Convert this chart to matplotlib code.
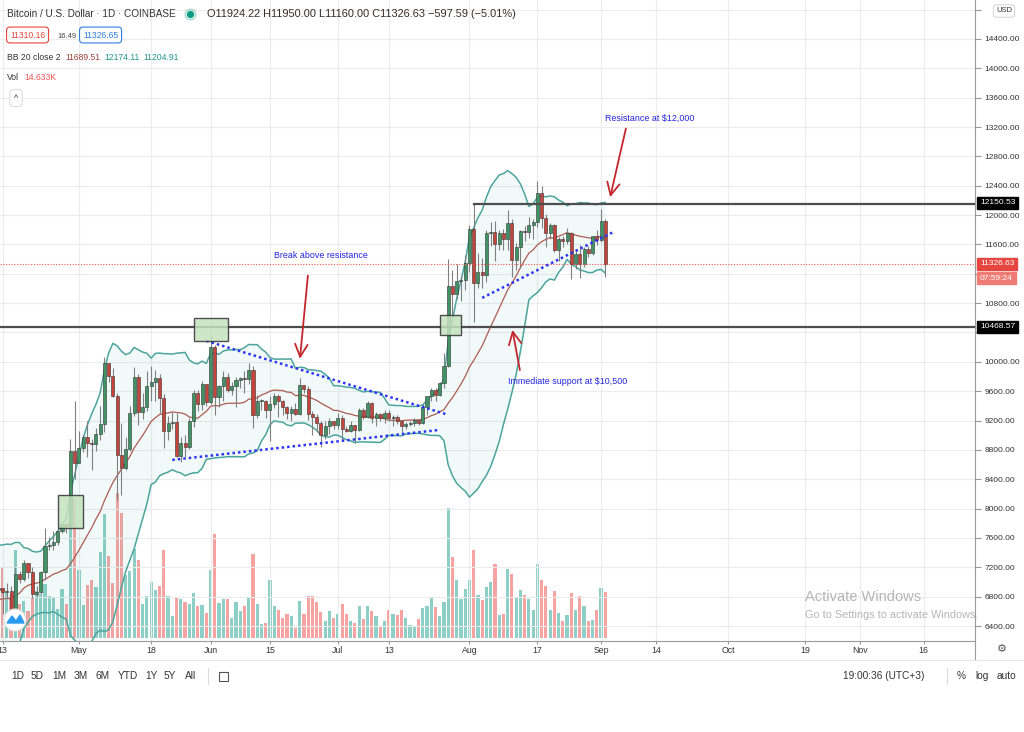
import numpy as np
import pandas as pd
import matplotlib
matplotlib.use('Agg')
import matplotlib.pyplot as plt
from matplotlib import font_manager
from matplotlib.patches import Rectangle, Ellipse, Polygon
from matplotlib.lines import Line2D

#==============================================================================
#- datos BTC/USD diario (Coinbase)
#==============================================================================
# cierres previos, solo para calentar las bandas de Bollinger (23 mar - 11 abr)
cierre_previo = [6480, 6760, 6690, 6760, 6370, 6250, 5880, 6400, 6420, 6650,
                 6810, 6740, 6870, 6780, 7340, 7200, 7370, 7300, 6870, 6890]

fechas = pd.date_range('2020-04-12', '2020-09-02', freq='D')

cierre = [
    # abril 12-30
    6915, 6860, 6880, 6630, 7110, 7040, 7260, 7130, 6840, 6860, 7130, 7490,
    7510, 7540, 7700, 7790, 7760, 8780, 8620,
    # mayo
    8830, 8980, 8900, 8880, 9020, 9150, 9990, 9810, 9540, 8730, 8560, 8810,
    9300, 9790, 9310, 9380, 9670, 9720, 9780, 9510, 9060, 9170, 9180, 8720,
    8900, 8840, 9200, 9570, 9430, 9700, 9450,
    # junio
    10200, 9520, 9670, 9800, 9620, 9670, 9750, 9780, 9770, 9890, 9270, 9470,
    9470, 9340, 9430, 9530, 9460, 9380, 9300, 9360, 9290, 9680, 9630, 9290,
    9250, 9160, 9010, 9120, 9190, 9140,
    # julio
    9240, 9090, 9060, 9140, 9070, 9350, 9250, 9440, 9230, 9290, 9230, 9300,
    9240, 9250, 9190, 9130, 9150, 9170, 9210, 9160, 9390, 9530, 9610, 9550,
    9710, 9940, 11030, 10930, 11100, 11110, 11350,
    # agosto
    11810, 11070, 11230, 11190, 11750, 11770, 11600, 11760, 11680, 11890,
    11390, 11570, 11780, 11770, 11860, 11910, 12300, 11960, 11750, 11870,
    11530, 11680, 11650, 11760, 11330, 11470, 11330, 11540, 11480, 11710,
    11660,
    # septiembre
    11924.22, 11326.63]

maximo = [
    7180, 6915, 6990, 6945, 7200, 7150, 7300, 7260, 7210, 6950, 7150, 7740,
    7610, 7700, 7720, 7790, 7800, 8950, 9460,
    9060, 9000, 9190, 8950, 9100, 9400, 10070, 9990, 9910, 9570, 9170, 8980,
    9400, 9930, 9840, 9580, 9880, 9950, 9890, 9840, 9560, 9260, 9310, 9300,
    8980, 9010, 9230, 9620, 9610, 9740, 9700,
    10380, 10230, 9690, 9880, 9850, 9730, 9800, 9800, 9880, 9990, 9940, 9550,
    9490, 9480, 9530, 9580, 9560, 9480, 9400, 9400, 9440, 9780, 9690, 9670,
    9330, 9290, 9190, 9190, 9230, 9200,
    9300, 9270, 9130, 9190, 9140, 9370, 9370, 9460, 9450, 9310, 9300, 9340,
    9340, 9270, 9270, 9200, 9180, 9200, 9230, 9220, 9430, 9540, 9650, 9640,
    9730, 10120, 11400, 11250, 11340, 11170, 11450,
    11870, 12150, 11480, 11410, 11790, 11910, 11920, 11800, 11810, 12070,
    11940, 11620, 11790, 11850, 11980, 11940, 12470, 12400, 12010, 11890,
    11880, 11700, 11710, 11820, 11770, 11540, 11590, 11560, 11580, 11720,
    11790,
    12080, 11950]

minimo = [
    6790, 6560, 6780, 6620, 6470, 6990, 7020, 7050, 6780, 6800, 6840, 7030,
    7440, 7440, 7500, 7670, 7670, 7730, 8410,
    8620, 8770, 8710, 8530, 8780, 8940, 9050, 9720, 9520, 8120, 8180, 8530,
    8780, 9260, 9140, 9220, 9330, 9470, 9470, 9300, 8820, 8930, 9090, 8700,
    8640, 8700, 8810, 9110, 9330, 9340, 9400,
    9420, 9280, 9380, 9460, 9590, 9550, 9390, 9650, 9580, 9700, 9100, 9240,
    9350, 9240, 8920, 9370, 9250, 9280, 9220, 9200, 9280, 9280, 9570, 9210,
    9000, 9040, 8840, 8950, 9020, 9080,
    9090, 8940, 9040, 9050, 8900, 9060, 9220, 9240, 9170, 9120, 9190, 9160,
    9200, 9120, 9150, 9010, 9090, 9120, 9120, 9140, 9150, 9280, 9470, 9460,
    9540, 9650, 9930, 10560, 10860, 10830, 10980,
    11220, 10540, 11000, 11000, 11090, 11580, 11370, 11530, 11520, 11530,
    11150, 11250, 11280, 11650, 11690, 11680, 11840, 11830, 11570, 11680,
    11500, 11380, 11560, 11600, 11130, 11270, 11140, 11290, 11430, 11460,
    11590,
    11640, 11160]

# volumen en miles de BTC
volumen = [
    19.1, 22.3, 14.3, 13.4, 28.0, 10.8, 11.8, 8.6, 12.7, 14.9, 14.0, 17.2,
    13.4, 12.7, 9.2, 15.6, 10.8, 52.5, 44.5,
    21.6, 10.5, 16.9, 18.4, 16.2, 27.3, 39.4, 26.1, 17.5, 46.1, 39.8, 20.0,
    21.3, 28.3, 24.8, 10.8, 13.4, 17.8, 15.3, 16.5, 28.0, 13.4, 7.0, 12.7,
    12.4, 11.4, 10.8, 14.3, 10.2, 10.5, 8.0,
    21.6, 33.1, 11.1, 12.4, 12.4, 6.4, 11.4, 8.6, 10.2, 12.7, 26.7, 10.8,
    4.5, 4.8, 18.4, 10.2, 8.9, 6.4, 7.6, 7.0, 3.2, 11.8, 7.6, 13.4,
    13.4, 11.4, 8.3, 5.4, 8.6, 6.4,
    7.6, 10.8, 7.6, 5.4, 4.8, 10.2, 6.0, 10.2, 8.6, 7.0, 3.5, 5.4,
    8.9, 7.6, 7.3, 8.9, 6.4, 4.1, 3.8, 6.0, 9.5, 10.2, 12.7, 9.9,
    7.0, 11.4, 41.3, 25.8, 18.4, 12.4, 15.6,
    18.4, 28.0, 13.7, 12.1, 16.2, 17.8, 23.5, 7.3, 7.6, 21.9,
    20.4, 13.0, 15.3, 13.7, 12.4, 8.9, 23.5, 18.4, 16.5, 8.9,
    14.9, 8.0, 5.4, 7.3, 14.3, 8.9, 13.4, 10.2, 5.4, 5.7,
    8.9,
    15.9, 14.633]

# dibujos del analista (fecha, precio)
resistencia = 12150.53
soporte = 10468.57
precio_actual = 11326.63
tendencias = [(('2020-05-31', 10286), ('2020-07-27', 9278)),
              (('2020-05-23', 8664), ('2020-07-25', 9073)),
              (('2020-08-04', 10872), ('2020-09-04', 11772))]
cajas = [(('2020-04-26', 7738), ('2020-05-02', 8190)),
         (('2020-05-28', 10286), ('2020-06-05', 10600)),
         (('2020-07-25', 10368), ('2020-07-30', 10640))]
flechas = [(('2020-09-07', 13216), ('2020-09-03', 12208)),
           (('2020-06-24', 11213), ('2020-06-22', 10004)),
           (('2020-08-13', 9850), ('2020-08-11', 10473))]
notas = [('Resistance at $12,000', '2020-09-02', 13325),
         ('Break above resistance', '2020-06-16', 11445),
         ('Immediate support at $10,500', '2020-08-10', 9727)]

etiquetas_x = ['13', 'May', '18', 'Jun', '15', 'Jul', '13', 'Aug', '17', 'Sep',
               '14', 'Oct', '19', 'Nov', '16']
fechas_x = ['2020-04-13', '2020-05-01', '2020-05-18', '2020-06-01', '2020-06-15',
            '2020-07-01', '2020-07-13', '2020-08-01', '2020-08-17', '2020-09-01',
            '2020-09-14', '2020-10-01', '2020-10-19', '2020-11-01', '2020-11-16']

#==============================================================================
#- fuente
#==============================================================================
nombres = {f.name for f in font_manager.fontManager.ttflist}
fuente = 'Liberation Sans Narrow' if 'Liberation Sans Narrow' in nombres else 'Liberation Sans'
plt.rcParams['font.family'] = [fuente, 'DejaVu Sans']

#==============================================================================
#- calculos
#==============================================================================
t0 = fechas[0]
def pos(f):
    return (pd.Timestamp(f) - t0).days

n = len(cierre)
x = np.arange(n)
cierre = np.array(cierre, dtype=float)
apertura = np.concatenate(([cierre_previo[-1]], cierre[:-1]))
maximo = np.array(maximo, dtype=float)
minimo = np.array(minimo, dtype=float)
volumen = np.array(volumen)

serie = pd.Series(list(cierre_previo) + list(cierre))
media = serie.rolling(20).mean().values[-n:]
desv = serie.rolling(20).std(ddof=0).values[-n:]
banda_sup = media + 2 * desv
banda_inf = media - 2 * desv

sube = cierre >= apertura
c_sube, c_baja = '#409463', '#c8433a'

#==============================================================================
#- figura
#==============================================================================
W, H = 1024, 732
fig = plt.figure(figsize=(W / 100, H / 100), dpi=100)
fig.patch.set_facecolor('white')

def fx(px):
    return px / W
def fy(py):
    return 1 - py / H

ax_vol = fig.add_axes([0, fy(641), fx(975), 641 / H])
ax = fig.add_axes([0, fy(641), fx(975), 641 / H], sharex=ax_vol)
ax.patch.set_visible(False)

xlim = (0.4, 230.1)
ax.set_xlim(*xlim)
ax.set_ylim(6196, 14931)

# volumen
ax_vol.bar(x, volumen, width=0.75, color=np.where(sube, '#8dcfc6', '#f6a3a1'), zorder=2)
ax_vol.set_ylim(-1, 203)
ax_vol.axis('off')

# grilla
ticks_y = np.arange(6400, 14801, 400)
for ty in ticks_y:
    ax.axhline(ty, color='#ececec', lw=0.8, zorder=0)
for f in fechas_x:
    ax.axvline(pos(f), color='#ececec', lw=0.8, zorder=0)

# bandas de Bollinger
ax.fill_between(x, banda_inf, banda_sup, color='#26a69a', alpha=0.06, lw=0, zorder=1)
ax.plot(x, banda_sup, color='#4ba59d', lw=1.1, zorder=2)
ax.plot(x, banda_inf, color='#4ba59d', lw=1.1, zorder=2)
ax.plot(x, media, color='#ad5b52', lw=0.9, zorder=2)

# velas
ax.vlines(x, minimo, maximo, color='#808080', lw=0.8, zorder=3)
cuerpo = np.maximum(np.abs(cierre - apertura), 12)
ax.bar(x, cuerpo, bottom=np.minimum(apertura, cierre), width=0.72,
       color=np.where(sube, c_sube, c_baja), edgecolor='#333333', linewidth=0.4, zorder=4)

# lineas horizontales
ax.plot([pos('2020-08-02'), xlim[1]], [resistencia, resistencia], color='#4d4d4d', lw=1.6, zorder=5)
ax.axhline(soporte, color='#4d4d4d', lw=1.6, zorder=5)
ax.axhline(precio_actual, color='#ef5350', lw=0.8, ls=(0, (1, 1.5)), zorder=5)

# lineas de tendencia
for (f1, p1), (f2, p2) in tendencias:
    ax.plot([pos(f1), pos(f2)], [p1, p2], color='#2b35f5', lw=1.8, ls=(0, (1, 1.2)), zorder=6)

# cajas
for (f1, p1), (f2, p2) in cajas:
    ax.add_patch(Rectangle((pos(f1), p1), pos(f2) - pos(f1), p2 - p1, facecolor='#c5e3bf',
                           alpha=0.85, edgecolor='#333333', lw=1.0, zorder=6))

# flechas
for (f1, p1), (f2, p2) in flechas:
    ax.annotate('', xy=(pos(f2), p2), xytext=(pos(f1), p1),
                arrowprops=dict(arrowstyle='->,head_width=0.45,head_length=0.9',
                                color='#c3272b', lw=1.3), zorder=7)

for texto, f, p in notas:
    ax.text(pos(f), p, texto, color='#2222dd', fontsize=6.4, va='center', ha='left', zorder=7)

# ejes
ax.yaxis.tick_right()
ax.set_yticks(ticks_y)
ax.set_yticklabels(['' if t in (11200, 10400, 14800) else '%.2f' % t for t in ticks_y])
ax.tick_params(axis='y', direction='out', length=4, pad=3, labelsize=6,
               colors='#9a9a9a', labelcolor='#333333')
ax.set_xticks([pos(f) for f in fechas_x])
ax.set_xticklabels(etiquetas_x)
ax.tick_params(axis='x', direction='out', length=2, pad=1.5, labelsize=6.3,
               colors='#9a9a9a', labelcolor='#333333')
for lado in ['top', 'left']:
    ax.spines[lado].set_visible(False)
ax.spines['right'].set_color('#9a9a9a')
ax.spines['bottom'].set_color('#9a9a9a')

# etiquetas de precio en el eje
def etiqueta(py, texto, fondo, color='white'):
    fig.text(fx(980), fy(py), texto, color=color, fontsize=6, va='center', ha='left',
             bbox=dict(boxstyle='square,pad=0.35', fc=fondo, ec=fondo))
etiqueta(203, '12150.53', 'black')
etiqueta(264, '11326.63', '#e5463f')
etiqueta(278, '07:59:24', '#f07b74')
etiqueta(327, '10468.57', 'black')
fig.text(fx(1004), fy(11), 'USD', fontsize=5.5, color='#333333', ha='center', va='center',
         zorder=10, bbox=dict(boxstyle='round,pad=0.35', fc='white', ec='#cccccc', lw=0.6))

# lineas del marco inferior
fig.add_artist(Line2D([fx(975), fx(975)], [fy(641), fy(660)], color='#9a9a9a', lw=0.8))
fig.add_artist(Line2D([0, 1], [fy(660), fy(660)], color='#e6e6e6', lw=0.8))
fig.text(fx(1002), fy(649), '⚙', fontsize=8, color='#555555', ha='center', va='center',
         family='DejaVu Sans')

# encabezado
fig.text(fx(7), fy(14), 'Bitcoin / U.S. Dollar · 1D · COINBASE', fontsize=7.2,
         color='#333333', va='center')
fig.add_artist(Line2D([fx(190)], [fy(14)], marker='o', ms=8, color='#089981', alpha=0.2))
fig.add_artist(Line2D([fx(190)], [fy(14)], marker='o', ms=4, color='#089981'))
fig.text(fx(207), fy(14), 'O11924.22 H11950.00 L11160.00 C11326.63 \u2212597.59 (\u22125.01%)',
         fontsize=7.9, color='#3a2a2a', va='center')
fig.text(fx(10), fy(35), '11310.16', fontsize=6.2, color='#e5463f', va='center',
         bbox=dict(boxstyle='round,pad=0.4', fc='white', ec='#e5463f', lw=0.8))
fig.text(fx(57), fy(36), '16.49', fontsize=5.5, color='#444444', va='center')
fig.text(fx(83), fy(35), '11326.65', fontsize=6.2, color='#2f7fe0', va='center',
         bbox=dict(boxstyle='round,pad=0.4', fc='white', ec='#2f7fe0', lw=0.8))
fig.text(fx(7), fy(57), 'BB 20 close 2', fontsize=6.2, color='#333333', va='center')
fig.text(fx(65), fy(57), '11689.51', fontsize=6.2, color='#a3443c', va='center')
fig.text(fx(104), fy(57), '12174.11', fontsize=6.2, color='#22958a', va='center')
fig.text(fx(143), fy(57), '11204.91', fontsize=6.2, color='#22958a', va='center')
fig.text(fx(7), fy(78), 'Vol', fontsize=6.2, color='#333333', va='center')
fig.text(fx(24), fy(78), '14.633K', fontsize=6.2, color='#ef5350', va='center')
fig.text(fx(16), fy(98), '^', fontsize=6.5, color='#333333', va='center', ha='center',
         bbox=dict(boxstyle='round,pad=0.45', fc='white', ec='#dddddd', lw=0.8))

# logo
fig.add_artist(Ellipse((fx(15), fy(620)), 22 / W, 22 / H, fc='white', ec='#dddddd', lw=0.8))
fig.add_artist(Polygon([(fx(7), fy(623)), (fx(12), fy(616)), (fx(16), fy(621)),
                        (fx(20), fy(615)), (fx(24), fy(623))], closed=True,
                       fc='#2a9bf3', ec='#2a9bf3'))

# marca de agua
fig.text(fx(805), fy(597), 'Activate Windows', fontsize=10.5, color='#b5b5b5', va='center')
fig.text(fx(805), fy(615), 'Go to Settings to activate Windows.', fontsize=7.8, color='#b5b5b5',
         va='center')

# barra inferior
botones = ['1D', '5D', '1M', '3M', '6M', 'YTD', '1Y', '5Y', 'All']
pos_botones = [11, 31, 52, 74, 96, 118, 145, 164, 185]
for b, px in zip(botones, pos_botones):
    fig.text(fx(px), fy(676), b, fontsize=7.3, color='#333333', va='center')
fig.add_artist(Line2D([fx(208), fx(208)], [fy(668), fy(684)], color='#dddddd', lw=0.8))
fig.add_artist(Rectangle((fx(219), fy(681)), 9 / W, 9 / H, fill=False, ec='#555555', lw=0.8))
fig.text(fx(843), fy(676), '19:00:36 (UTC+3)', fontsize=7.3, color='#333333', va='center')
fig.add_artist(Line2D([fx(947), fx(947)], [fy(668), fy(684)], color='#dddddd', lw=0.8))
fig.text(fx(957), fy(676), '%', fontsize=7.3, color='#333333', va='center')
fig.text(fx(975), fy(676), 'log', fontsize=7.3, color='#333333', va='center')
fig.text(fx(997), fy(676), 'auto', fontsize=7.3, color='#333333', va='center')

plt.savefig('out.png', dpi=100)
plt.close()
